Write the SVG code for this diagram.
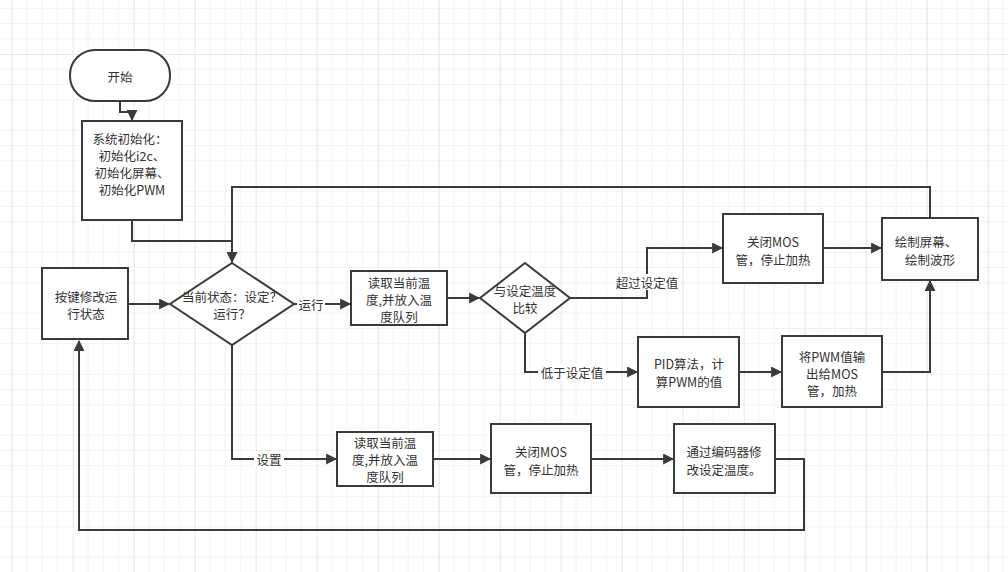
<svg xmlns="http://www.w3.org/2000/svg" width="1008" height="572" viewBox="0 0 1008 572">
<defs>
<pattern id="grid" x="11.7" y="54" width="61" height="61" patternUnits="userSpaceOnUse">
<path d="M15.25 0V61M30.5 0V61M45.75 0V61M0 15.25H61M0 30.5H61M0 45.75H61" stroke="#f2f2f2" stroke-width="1" fill="none"/>
<path d="M0.5 0V61M0 0.5H61" stroke="#e6e6e6" stroke-width="1" fill="none"/>
</pattern>
<marker id="arr" viewBox="0 0 10 10" refX="9" refY="5" markerWidth="5.5" markerHeight="5.5" orient="auto" markerUnits="strokeWidth">
<path d="M0 0L10 5L0 10z" fill="#3a3a3a"/>
</marker>
</defs>
<style>
.n{fill:#ffffff;stroke:#3a3a3a;stroke-width:2}
.t{font-family:"Noto Sans CJK SC","Noto Sans",sans-serif;font-size:12.5px;fill:#333333;text-anchor:middle;dominant-baseline:central}
.c{fill:none;stroke:#3a3a3a;stroke-width:2}
.ca{fill:none;stroke:#3a3a3a;stroke-width:2;marker-end:url(#arr)}
.lb{fill:#ffffff}
</style>
<rect width="1008" height="572" fill="#ffffff"/>
<rect width="1008" height="572" fill="url(#grid)"/>

<g id="connectors">
<path class="ca" d="M120 101V112H132V120"/>
<path class="c" d="M132 220V241H232"/>
<path class="ca" d="M930 218V187H232V262"/>
<path class="ca" d="M128 304H169"/>
<path class="ca" d="M293 304H350"/>
<path class="ca" d="M447 298H479"/>
<path class="ca" d="M570 298H647V248H722"/>
<path class="ca" d="M823 248H881"/>
<path class="ca" d="M525 333V372H637"/>
<path class="ca" d="M739 372H781"/>
<path class="ca" d="M882 372H930V281"/>
<path class="ca" d="M232 345V459H336"/>
<path class="ca" d="M433 459H490"/>
<path class="ca" d="M591 459H673"/>
<path class="ca" d="M775 459H804V530H79V341"/>
<rect class="lb" x="297" y="296" width="28" height="16"/>
<text class="t" x="311" y="304">运行</text>
<rect class="lb" x="615" y="274" width="66" height="16"/>
<text class="t" x="647" y="282">超过设定值</text>
<rect class="lb" x="538" y="364" width="68" height="16"/>
<text class="t" x="572" y="372">低于设定值</text>
<rect class="lb" x="254" y="451" width="30" height="16"/>
<text class="t" x="269" y="459">设置</text>
</g>

<g id="start">
<rect class="n" x="70" y="50" width="100" height="51" rx="25" ry="25"/>
<text class="t" x="120" y="76">开始</text>
</g>

<g id="init">
<rect class="n" x="82" y="121" width="100" height="99"/>
<text class="t" x="130" y="138">系统初始化：</text>
<text class="t" x="132" y="155">初始化i2c、</text>
<text class="t" x="132" y="172">初始化屏幕、</text>
<text class="t" x="132" y="189">初始化PWM</text>
</g>

<g id="key">
<rect class="n" x="42" y="268" width="86" height="71"/>
<text class="t" x="86" y="296">按键修改运</text>
<text class="t" x="86" y="313">行状态</text>
</g>

<g id="state">
<path class="n" d="M232 263L294 304L232 345L170 304Z"/>
<text class="t" x="232" y="296">当前状态：设定？</text>
<text class="t" x="232" y="313">运行？</text>
</g>

<g id="read1">
<rect class="n" x="351" y="271" width="96" height="54"/>
<text class="t" x="399" y="282">读取当前温</text>
<text class="t" x="399" y="299">度,并放入温</text>
<text class="t" x="399" y="316">度队列</text>
</g>

<g id="compare">
<path class="n" d="M525 263L570 298L525 333L480 298Z"/>
<text class="t" x="525" y="290">与设定温度</text>
<text class="t" x="525" y="307">比较</text>
</g>

<g id="off1">
<rect class="n" x="723" y="214" width="100" height="69"/>
<text class="t" x="773" y="241">关闭MOS</text>
<text class="t" x="773" y="259">管，停止加热</text>
</g>

<g id="draw">
<rect class="n" x="882" y="218" width="96" height="62"/>
<text class="t" x="926" y="241">绘制屏幕、</text>
<text class="t" x="930" y="259">绘制波形</text>
</g>

<g id="pid">
<rect class="n" x="638" y="337" width="101" height="70"/>
<text class="t" x="689" y="363">PID算法，计</text>
<text class="t" x="689" y="381">算PWM的值</text>
</g>

<g id="pwmout">
<rect class="n" x="782" y="336" width="100" height="71"/>
<text class="t" x="832" y="356">将PWM值输</text>
<text class="t" x="832" y="373">出给MOS</text>
<text class="t" x="832" y="390">管，加热</text>
</g>

<g id="read2">
<rect class="n" x="337" y="432" width="96" height="54"/>
<text class="t" x="385" y="442">读取当前温</text>
<text class="t" x="385" y="459">度,并放入温</text>
<text class="t" x="385" y="476">度队列</text>
</g>

<g id="off2">
<rect class="n" x="491" y="424" width="100" height="69"/>
<text class="t" x="541" y="451">关闭MOS</text>
<text class="t" x="541" y="469">管，停止加热</text>
</g>

<g id="encoder">
<rect class="n" x="674" y="424" width="101" height="69"/>
<text class="t" x="724" y="451">通过编码器修</text>
<text class="t" x="724" y="469">改设定温度。</text>
</g>
</svg>
